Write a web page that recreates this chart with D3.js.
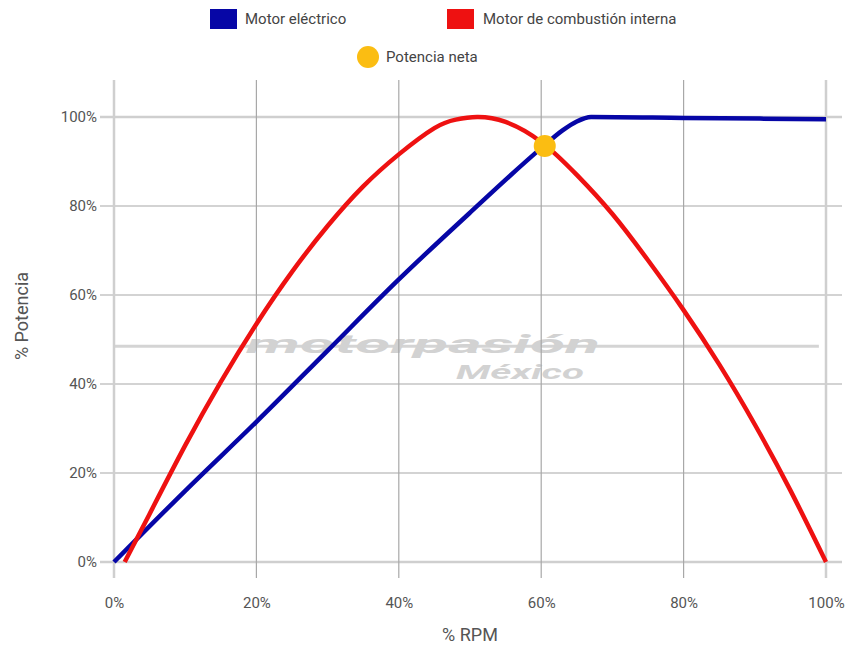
<!DOCTYPE html>
<html>
<head>
<meta charset="utf-8">
<script src="https://cdn.jsdelivr.net/npm/d3@7"></script>
<style>
  html, body { margin: 0; padding: 0; background: #fff; }
  svg { display: block; font-family: Roboto, "Noto Sans", sans-serif; }
</style>
</head>
<body>
<svg id="chart" width="850" height="648"></svg>
<script>
// ---- data ----
const xTicks = [0, 20, 40, 60, 80, 100];
const yTicks = [0, 20, 40, 60, 80, 100];
const tickFmt = d => d + "%";

const electricRPM   = [0, 10, 20, 30, 40, 50, 60, 63, 65, 67, 80, 100];
const electricPower = [0, 16, 31.5, 47.5, 63.5, 78.5, 93, 97, 99, 100, 99.8, 99.5];

const combustionRPM   = [1.5, 5, 10, 15, 20, 25, 30, 35, 40, 45, 48, 51, 55, 60, 65, 70, 75, 80, 85, 90, 95, 100];
const combustionPower = [0, 10.8, 26.2, 40.5, 53.5, 65.2, 75.5, 84.4, 91.6, 97.5, 99.4, 100, 98.9, 94.4, 87, 78.2, 67.8, 56.6, 44.4, 30.9, 16.1, 0];

const netPoint = { rpm: 60.5, power: 93.5 };

const seriesNames = ["Motor eléctrico", "Motor de combustión interna", "Potencia neta"];
const seriesColors = ["#0606a6", "#ee1111", "#fbbd12"];

// ---- layout ----
const svg = d3.select("#chart");
const x = d3.scaleLinear().domain([0, 100]).range([114, 826]);
const y = d3.scaleLinear().domain([0, 100]).range([562, 117]);

// watermark (behind)
const wm = svg.append("g");
wm.append("line")
  .attr("x1", x(0)).attr("x2", x(99)).attr("y1", y(48.5)).attr("y2", y(48.5))
  .attr("stroke", "#d4d4d4").attr("stroke-width", 3);
wm.append("text")
  .attr("x", 246).attr("y", 353)
  .attr("font-size", 26).attr("font-style", "italic").attr("font-weight", "bold")
  .attr("fill", "#d2d2d2")
  .attr("textLength", 354).attr("lengthAdjust", "spacingAndGlyphs")
  .text("motorpasión");
wm.append("text")
  .attr("x", 456).attr("y", 379)
  .attr("font-size", 20).attr("font-style", "italic").attr("font-weight", "bold")
  .attr("fill", "#d2d2d2")
  .attr("textLength", 128).attr("lengthAdjust", "spacingAndGlyphs")
  .text("México");

// gridlines
const grid = svg.append("g");
grid.selectAll("line.h").data(yTicks).join("line")
  .attr("class", "h")
  .attr("x1", 100).attr("x2", 842)
  .attr("y1", d => y(d)).attr("y2", d => y(d))
  .attr("stroke", d => (d === 0 || d === 100) ? "#cfcfcf" : "#a8a8a8")
  .attr("stroke-width", d => (d === 0 || d === 100) ? 2.5 : 1.2);
grid.selectAll("line.v").data(xTicks).join("line")
  .attr("class", "v")
  .attr("y1", 80).attr("y2", 578)
  .attr("x1", d => x(d)).attr("x2", d => x(d))
  .attr("stroke", d => (d === 0 || d === 100) ? "#cfcfcf" : "#a8a8a8")
  .attr("stroke-width", d => (d === 0 || d === 100) ? 2.5 : 1.2);

// axes (labels only)
const yAxis = svg.append("g")
  .attr("transform", `translate(${x(0)},0)`)
  .call(d3.axisLeft(y).tickValues(yTicks).tickFormat(tickFmt).tickSize(0).tickPadding(17));
const xAxis = svg.append("g")
  .attr("transform", `translate(0,${y(0)})`)
  .call(d3.axisBottom(x).tickValues(xTicks).tickFormat(tickFmt).tickSize(0).tickPadding(35));
[yAxis, xAxis].forEach(a => {
  a.select(".domain").remove();
  a.selectAll("text").attr("font-size", 15).attr("fill", "#555")
    .attr("font-family", "Roboto, 'Noto Sans', sans-serif");
});

// axis titles
svg.append("text")
  .attr("x", 470).attr("y", 641)
  .attr("text-anchor", "middle").attr("font-size", 18).attr("fill", "#555")
  .text("% RPM");
svg.append("text")
  .attr("transform", "translate(28,316) rotate(-90)")
  .attr("text-anchor", "middle").attr("font-size", 18).attr("fill", "#555")
  .text("% Potencia");

// lines
const elecLine = d3.line().x(d => x(d[0])).y(d => y(d[1])).curve(d3.curveMonotoneX);
const combLine = d3.line().x(d => x(d[0])).y(d => y(d[1])).curve(d3.curveNatural);
const elec = electricRPM.map((r, i) => [r, electricPower[i]]);
const comb = combustionRPM.map((r, i) => [r, combustionPower[i]]);

svg.append("path").datum(elec)
  .attr("d", elecLine).attr("fill", "none")
  .attr("stroke", seriesColors[0]).attr("stroke-width", 4.5);
svg.append("path").datum(comb)
  .attr("d", combLine).attr("fill", "none")
  .attr("stroke", seriesColors[1]).attr("stroke-width", 4.5);

svg.append("circle")
  .attr("cx", x(netPoint.rpm)).attr("cy", y(netPoint.power)).attr("r", 11)
  .attr("fill", seriesColors[2]);

// legend
const leg = svg.append("g").attr("font-size", 15).attr("fill", "#444");
leg.append("rect").attr("x", 210).attr("y", 9).attr("width", 27).attr("height", 20).attr("fill", seriesColors[0]);
leg.append("text").attr("x", 245).attr("y", 19).attr("dy", "0.35em").text(seriesNames[0]);
leg.append("rect").attr("x", 447).attr("y", 9).attr("width", 27).attr("height", 20).attr("fill", seriesColors[1]);
leg.append("text").attr("x", 483).attr("y", 19).attr("dy", "0.35em").text(seriesNames[1]);
leg.append("circle").attr("cx", 368).attr("cy", 57).attr("r", 11).attr("fill", seriesColors[2]);
leg.append("text").attr("x", 386).attr("y", 57).attr("dy", "0.35em").text(seriesNames[2]);
</script>
</body>
</html>
